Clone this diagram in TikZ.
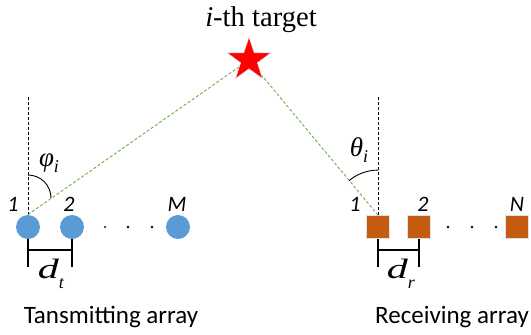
\documentclass[tikz,border=0pt]{standalone}
\usepackage{fontspec}
\setmainfont{Liberation Serif}
\setsansfont{Carlito}
\usepackage{xcolor}
\definecolor{txblue}{HTML}{5B9BD5}
\definecolor{rxorange}{HTML}{C55A11}
\definecolor{raygreen}{HTML}{70AD47}
\definecolor{dotblue}{HTML}{1F4E79}
\usetikzlibrary{shapes.geometric,positioning}

\begin{document}
\begin{tikzpicture}[
  x=0.5pt, y=0.5pt,
  font=\sffamily,
  tx/.style={circle, fill=txblue, minimum size=12pt, inner sep=0pt},
  rx/.style={rectangle, fill=rxorange, draw=black!12, line width=0.4pt,
    minimum size=11.5pt, inner sep=0pt},
  idx/.style={font=\fontsize{11}{11}\selectfont\sffamily\itshape, inner sep=0pt},
  arraycap/.style={font=\fontsize{12.5}{12.5}\selectfont\sffamily, inner sep=0pt},
  ang/.style={font=\fontsize{13.5}{13.5}\selectfont\rmfamily\itshape, inner sep=0pt},
  dist/.style={font=\fontsize{14}{14}\selectfont\rmfamily\itshape, inner sep=0pt},
  ray/.style={raygreen, dash pattern=on 1.5pt off 1pt, line width=0.45pt},
  axis/.style={black, dash pattern=on 1.5pt off 1pt, line width=0.4pt},
  brk/.style={black, line width=0.9pt},
  dot/.style={circle, fill=black, minimum size=1.4pt, inner sep=0pt}
]
  \useasboundingbox (0,0) rectangle (531,334);

  % target
  \node[star, star points=5, star point ratio=2.6, fill=red, draw=black!10,
    line width=0.3pt, minimum size=23pt, inner sep=0pt] (tgt) at (249,274) {};
  \node[font=\fontsize{14.3}{14}\selectfont\rmfamily, inner sep=0pt]
    (tlab) at (261,314) {\textit{i}-th target};

  % transmitting array
  \node[tx] (t1) at (28,107) {};
  \node[tx] (t2) at (72,107) {};
  \node[tx] (tm) at (178,107) {};
  \node[dot, fill=dotblue] (td1) at (105,107) {};
  \node[dot] (td2) at (128,107) {};
  \node[dot] (td3) at (152,107) {};
  \node[idx] (l1) at (13,130) {1};
  \node[idx] (l2) at (69,130) {2};
  \node[idx] (lm) at (177,130) {M};
  \node[arraycap] (tcap) at (111,17) {Tansmitting array};

  % receiving array
  \node[rx] (r1) at (378,107) {};
  \node[rx] (r2) at (419,107) {};
  \node[rx] (rn) at (517,107) {};
  \node[dot] (rd1) at (448,107) {};
  \node[dot] (rd2) at (472,107) {};
  \node[dot] (rd3) at (496,107) {};
  \node[idx] (k1) at (355,130) {1};
  \node[idx] (k2) at (423,130) {2};
  \node[idx] (kn) at (517,130) {N};
  \node[arraycap] (rcap) at (452,17) {Receiving array};

  % normals and rays
  \coordinate (tv) at (28,237);
  \coordinate (rv) at (378,237);
  \draw[axis] (t1.north) -- (tv);
  \draw[axis] (r1.north) -- (rv);
  \draw[ray] (t1.north) -- (tgt);
  \draw[ray] (r1.north) -- (tgt);

  % angles
  \draw[line width=0.45pt] (28,159) arc[start angle=90, end angle=0, radius=23];
  \draw[line width=0.45pt] (r1.north) ++(90:45) arc[start angle=90, end angle=130, radius=45];
  \node[ang] (phi) at (49,171) {φ\raisebox{-0.5ex}{\fontsize{9}{9}\selectfont i}};
  \node[ang] (theta) at (359,184) {θ\raisebox{-0.5ex}{\fontsize{9}{9}\selectfont i}};

  % element spacing
  \coordinate (dtl) at (28,67);
  \coordinate (dtr) at (72,67);
  \coordinate (drl) at (378,67);
  \coordinate (drr) at (419,67);
  \draw[brk] (t1.south) -- (dtl);
  \draw[brk] (t2.south) -- (dtr);
  \draw[brk] (t1 |- 0,84) -- (t2 |- 0,84);
  \draw[brk] (r1.south) -- (drl);
  \draw[brk] (r2.south) -- (drr);
  \draw[brk] (r1 |- 0,84) -- (r2 |- 0,84);
  \node[dist] (dt) at (51,60) {\scalebox{1.5}[1]{d}\raisebox{-0.8ex}{\fontsize{9}{9}\selectfont t}};
  \node[dist] (dr) at (401,60) {\scalebox{1.5}[1]{d}\raisebox{-0.8ex}{\fontsize{9}{9}\selectfont r}};
\end{tikzpicture}
\end{document}
